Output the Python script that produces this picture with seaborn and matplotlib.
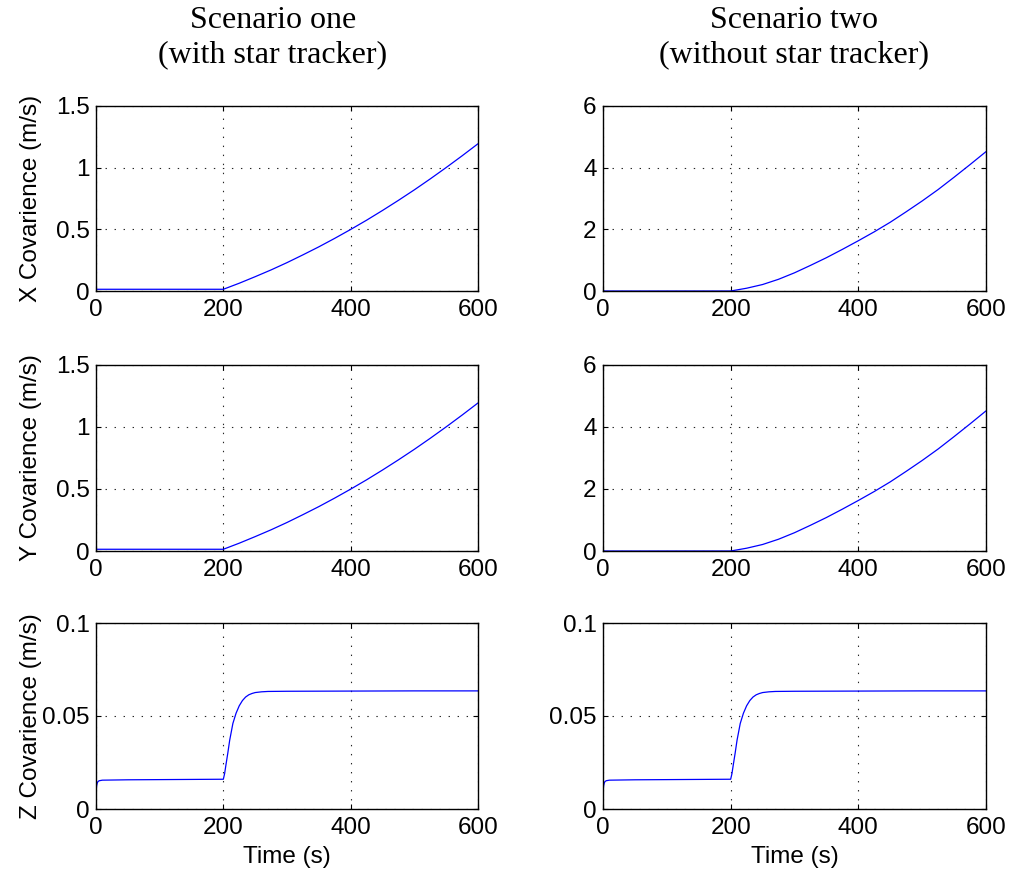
import numpy as np
import pandas as pd
import matplotlib
matplotlib.use("Agg")
import matplotlib.pyplot as plt
from matplotlib.ticker import FuncFormatter
import seaborn as sns

# ---------------- data ----------------
t_xy = [0, 50, 100, 150, 200, 225, 250, 275, 300, 325, 350, 375, 400,
        425, 450, 475, 500, 525, 550, 575, 600]

x_cov_one = [0.014, 0.014, 0.014, 0.014, 0.014, 0.063, 0.116, 0.171, 0.230, 0.293,
             0.358, 0.427, 0.499, 0.574, 0.653, 0.735, 0.820, 0.909, 1.001, 1.096, 1.194]
y_cov_one = [0.014, 0.014, 0.014, 0.014, 0.014, 0.063, 0.116, 0.171, 0.230, 0.293,
             0.358, 0.427, 0.499, 0.574, 0.653, 0.735, 0.820, 0.909, 1.001, 1.096, 1.194]
x_cov_two = [0.0, 0.0, 0.0, 0.0, 0.0, 0.09, 0.21, 0.38, 0.59, 0.83, 1.08, 1.35,
             1.63, 1.92, 2.23, 2.57, 2.92, 3.29, 3.69, 4.10, 4.52]
y_cov_two = [0.0, 0.0, 0.0, 0.0, 0.0, 0.09, 0.21, 0.38, 0.59, 0.83, 1.08, 1.35,
             1.63, 1.92, 2.23, 2.57, 2.92, 3.29, 3.69, 4.10, 4.52]

t_z = [0, 1, 2, 3, 5, 10, 50, 100, 150, 200, 202, 204, 207, 210, 215, 220, 225,
       230, 235, 240, 245, 250, 260, 270, 300, 400, 500, 600]
z_cov_one = [0.009, 0.0125, 0.0140, 0.0147, 0.0152, 0.0155, 0.0157, 0.0158,
             0.0159, 0.0160, 0.0190, 0.0235, 0.0300, 0.0370, 0.0460, 0.0515,
             0.0555, 0.0583, 0.0602, 0.0614, 0.0621, 0.0626, 0.0630, 0.0632,
             0.0633, 0.0634, 0.0635, 0.0635]
z_cov_two = [0.009, 0.0125, 0.0140, 0.0147, 0.0152, 0.0155, 0.0157, 0.0158,
             0.0159, 0.0160, 0.0190, 0.0235, 0.0300, 0.0370, 0.0460, 0.0515,
             0.0555, 0.0583, 0.0602, 0.0614, 0.0621, 0.0626, 0.0630, 0.0632,
             0.0633, 0.0634, 0.0635, 0.0635]

col_titles = ["Scenario one\n(with star tracker)",
              "Scenario two\n(without star tracker)"]
row_labels = ["X Covarience (m/s)", "Y Covarience (m/s)", "Z Covarience (m/s)"]
x_label = "Time (s)"
x_ticks = [0, 200, 400, 600]
y_ticks_one = [[0, 0.5, 1, 1.5], [0, 0.5, 1, 1.5], [0, 0.05, 0.1]]
y_ticks_two = [[0, 2, 4, 6], [0, 2, 4, 6], [0, 0.05, 0.1]]

# ---------------- style ----------------
sns.set_theme(style="white")
plt.rcParams["font.family"] = ["Liberation Sans", "DejaVu Sans"]
plt.rcParams["lines.scale_dashes"] = False
plt.rcParams["axes.edgecolor"] = "black"
plt.rcParams["axes.linewidth"] = 1.0
plt.rcParams["text.color"] = "black"
plt.rcParams["axes.labelcolor"] = "black"
plt.rcParams["xtick.color"] = "black"
plt.rcParams["ytick.color"] = "black"

W, H = 1012, 875
fig = plt.figure(figsize=(W / 100, H / 100), dpi=100)

col_x = [(96, 478), (603, 986)]
row_y = [(106, 291), (365, 551), (623, 809)]

panels = [
    [(t_xy, x_cov_one), (t_xy, x_cov_two)],
    [(t_xy, y_cov_one), (t_xy, y_cov_two)],
    [(t_z, z_cov_one), (t_z, z_cov_two)],
]

fmt = FuncFormatter(lambda v, p: "%g" % v)
FS = 17.5

for r in range(3):
    for c in range(2):
        x0, x1 = col_x[c]
        y0, y1 = row_y[r]
        ax = fig.add_axes([x0 / W, 1 - y1 / H, (x1 - x0) / W, (y1 - y0) / H])
        tt, vv = panels[r][c]
        df = pd.DataFrame({"t": tt, "v": vv})
        sns.lineplot(data=df, x="t", y="v", ax=ax, color=(0, 0, 1),
                     linewidth=0.9, estimator=None, sort=False)
        yt = y_ticks_one[r] if c == 0 else y_ticks_two[r]
        ax.set_xlim(0, 600)
        ax.set_ylim(yt[0], yt[-1])
        ax.set_xticks(x_ticks)
        ax.set_yticks(yt)
        ax.xaxis.set_major_formatter(fmt)
        ax.yaxis.set_major_formatter(fmt)
        ax.grid(True, color="0.15", linestyle=(0, (1, 5.5)), linewidth=0.8)
        ax.tick_params(direction="in", length=3.5, width=0.8, top=True,
                       right=True, bottom=True, left=True, labelsize=FS,
                       colors="black")
        ax.tick_params(axis="x", pad=6)
        ax.tick_params(axis="y", pad=4.5)
        for s in ax.spines.values():
            s.set_visible(True)
            s.set_color("black")
            s.set_linewidth(1.0)
        ax.set_xlabel(x_label if r == 2 else "", fontsize=FS, labelpad=5)
        if c == 0:
            ax.set_ylabel(row_labels[r], fontsize=FS)
            ax.yaxis.set_label_coords(-0.141, 0.5)
        else:
            ax.set_ylabel("")

for x_pix, title in zip([273, 794], col_titles):
    fig.text(x_pix / W, 1 - 6 / H, title, ha="center", va="top",
             fontsize=23, family=["Liberation Serif", "DejaVu Serif"],
             linespacing=1.22, color="black")

fig.savefig("out.png", dpi=100, facecolor="white")
